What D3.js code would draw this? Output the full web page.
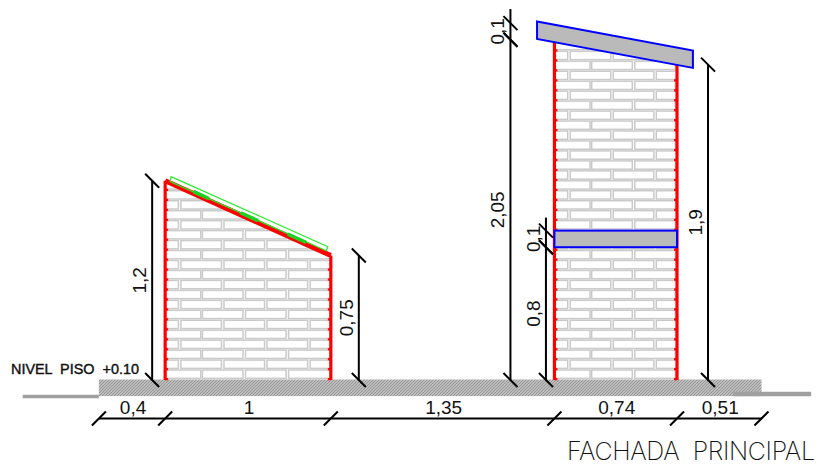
<!DOCTYPE html>
<html>
<head>
<meta charset="utf-8">
<script src="https://cdn.jsdelivr.net/npm/d3@7"></script>
<style>
    html, body { margin: 0; padding: 0; background: #fff; }
    svg { display: block; }
    text { font-family: "Liberation Sans", Arial, sans-serif; fill: #111; }
</style>
</head>
<body>
<div id="chart"></div>
<script>
// all lengths in metres, as written on the drawing
const spanValues = [0.4, 1, 1.35, 0.74, 0.51];
const spanLabels = ['0,4', '1', '1,35', '0,74', '0,51'];

const lowWallHeights = [1.2, 0.75];
const lowWallLabels = ['1,2', '0,75'];

const tallStackValues = [2.05, 0.1];
const tallStackLabels = ['2,05', '0,1'];
const innerStackValues = [0.8, 0.1];
const innerStackLabels = ['0,8', '0,1'];
const rearWallHeight = 1.9;
const rearWallLabel = '1,9';

const roofOutline = [[2.645, 2.16], [2.645, 2.054], [3.586, 1.88], [3.586, 1.985]];
const flashing = [[0.436, 1.225], [0.43, 1.195], [1.372, 0.779], [1.382, 0.803]];
const flashingClips = [[0.57, 0.665], [0.856, 0.96], [1.14, 1.25]];

// brick joints along a course, measured from the left of each wall
const courseA = [[0, 0.215], [0.225, 0.47], [0.485, 0.73], [0.745, 1]];
const courseB = [[0, 0.08], [0.095, 0.34], [0.355, 0.6], [0.615, 0.86], [0.875, 1]];
const coursePitch = 0.06;
const brickHeight = 0.05;
const lintelCourse = 15;

const groundLeft = [-0.46, 0];
const groundRight = [3.83, 4.3];
const floorLevel = 'NIVEL  PISO  +0.10';
const title = 'FACHADA  PRINCIPAL';

const width = 819;
const height = 467;

const x = d3.scaleLinear().domain([0, 4]).range([98.9, 761.5]);
const y = d3.scaleLinear().domain([0, 2]).range([380, 48]);

const svg = d3.select('#chart').append('svg')
    .attr('width', width)
    .attr('height', height);

const defs = svg.append('defs');

const hatch = defs.append('pattern')
    .attr('id', 'hatch')
    .attr('width', 3)
    .attr('height', 3)
    .attr('patternUnits', 'userSpaceOnUse');
hatch.append('rect').attr('width', 3).attr('height', 3).attr('fill', '#bcbcbc');
hatch.append('path').attr('d', 'M0,3L3,0M-1,1L1,-1M2,4L4,2').attr('stroke', '#8e8e8e').attr('stroke-width', 0.8);

const toPoints = pts => pts.map(p => x(p[0]) + ',' + y(p[1])).join(' ');
const line = d3.line().x(d => x(d[0])).y(d => y(d[1]));

const leftWall = spanValues[0];
const rightWall = leftWall + spanValues[1];
const rearLeft = rightWall + spanValues[2];
const rearRight = rearLeft + spanValues[3];
const platformEnd = rearRight + spanValues[4];

// ground + platform
const ground = svg.append('g');
ground.append('path')
    .attr('d', line([[groundLeft[0], -0.1], [groundLeft[1], -0.1]]))
    .attr('stroke', '#a0a0a0').attr('stroke-width', 3.5).attr('fill', 'none');
ground.append('rect')
    .attr('x', x(0))
    .attr('y', y(0) - 0.5)
    .attr('width', x(platformEnd) - x(0))
    .attr('height', y(-0.1) - y(0))
    .attr('fill', 'url(#hatch)');
ground.append('path')
    .attr('d', line([[groundRight[0], -0.085], [groundRight[1], -0.085]]))
    .attr('stroke', '#a0a0a0').attr('stroke-width', 4.5).attr('fill', 'none');

function drawBricks(id, outline, left, wallWidth, numCourses, flipFrom) {
    defs.append('clipPath').attr('id', id)
        .append('polygon').attr('points', toPoints(outline));

    const g = svg.append('g').attr('clip-path', 'url(#' + id + ')');

    d3.range(numCourses).forEach(k => {
        const isA = flipFrom !== null && k >= flipFrom ? k % 2 === 1 : k % 2 === 0;
        const course = isA ? courseA : courseB;
        const bottom = 0.01 + k * coursePitch;

        course.forEach(b => {
            if (b[0] >= wallWidth) {
                return;
            }
            g.append('rect')
                .attr('x', x(left + b[0]))
                .attr('y', y(bottom + brickHeight))
                .attr('width', x(Math.min(b[1], wallWidth) - b[0]) - x(0))
                .attr('height', y(0) - y(brickHeight))
                .attr('fill', '#fff')
                .attr('stroke', '#cacaca')
                .attr('stroke-width', 1.5);
        });
    });
}

// the red walls carry a small stub at every course
function drawWall(wallX, top, side) {
    const g = svg.append('g').attr('stroke', '#f00').attr('fill', 'none');
    g.append('path')
        .attr('d', line([[wallX, 0], [wallX, top]]))
        .attr('stroke-width', 3.2);
    d3.range(0, Math.floor(top / coursePitch)).forEach(k => {
        const level = k * coursePitch + 0.005;
        g.append('path')
            .attr('d', 'M' + x(wallX) + ',' + y(level) + 'h' + side * 3)
            .attr('stroke-width', 2.2);
    });
}

drawBricks('low-wall',
    [[leftWall, 0], [leftWall, lowWallHeights[0]], [rightWall, lowWallHeights[1]], [rightWall, 0]],
    leftWall, 1, 20, null);
drawBricks('rear-wall',
    [[rearLeft, 0], [rearLeft, 2.05], [rearRight, 1.9], [rearRight, 0]],
    rearLeft, spanValues[3], 34, lintelCourse);

drawWall(leftWall, lowWallHeights[0], 1);
drawWall(rightWall, lowWallHeights[1], -1);
drawWall(rearLeft, tallStackValues[0], 1);
drawWall(rearRight, rearWallHeight, -1);

// sloped red beam and green flashing on the low wall
svg.append('path')
    .attr('d', line([[leftWall, lowWallHeights[0]], [rightWall, lowWallHeights[1]]]))
    .attr('stroke', '#f00').attr('stroke-width', 5).attr('fill', 'none');
svg.append('polygon')
    .attr('points', toPoints(flashing))
    .attr('fill', 'none').attr('stroke', '#22ee22').attr('stroke-width', 1.2);
const slope = (lowWallHeights[1] - lowWallHeights[0]) / spanValues[1];
flashingClips.forEach(c => {
    const at = v => lowWallHeights[0] + slope * (v - leftWall) + 0.012;
    svg.append('path')
        .attr('d', line([[c[0], at(c[0])], [c[1], at(c[1])]]))
        .attr('stroke', '#20d020').attr('stroke-width', 3.6).attr('fill', 'none');
});

// roof and lintel
svg.append('polygon')
    .attr('points', toPoints(roofOutline))
    .attr('fill', '#bababa').attr('stroke', '#00f').attr('stroke-width', 2);
svg.append('rect')
    .attr('x', x(rearLeft))
    .attr('y', y(innerStackValues[0] + innerStackValues[1]))
    .attr('width', x(spanValues[3]) - x(0))
    .attr('height', y(0) - y(innerStackValues[1]))
    .attr('fill', '#bababa').attr('stroke', '#00f').attr('stroke-width', 2);

// dimension helpers
const dims = svg.append('g').attr('stroke', '#000').attr('fill', 'none');

function tick(px, py) {
    dims.append('line')
        .attr('x1', px - 7).attr('y1', py - 7)
        .attr('x2', px + 7).attr('y2', py + 7)
        .attr('stroke-width', 2);
}

function flatTick(px, py) {
    dims.append('line')
        .attr('x1', px - 7).attr('y1', py + 7)
        .attr('x2', px + 7).attr('y2', py - 7)
        .attr('stroke-width', 2);
}

function verticalDim(px, from, to, extra) {
    dims.append('line')
        .attr('x1', px).attr('x2', px)
        .attr('y1', y(from)).attr('y2', y(to) - (extra || 0))
        .attr('stroke-width', 2);
    tick(px, y(from));
    tick(px, y(to));
}

function verticalLabel(px, level, label) {
    svg.append('text')
        .attr('transform', 'translate(' + px + ',' + y(level) + ') rotate(-90)')
        .attr('text-anchor', 'middle')
        .attr('font-size', 19)
        .text(label);
}

// bottom chain
const chainY = 418.5;
let running = 0;
dims.append('line')
    .attr('x1', x(0)).attr('x2', x(platformEnd))
    .attr('y1', chainY).attr('y2', chainY)
    .attr('stroke-width', 2);
flatTick(x(0), chainY);
spanValues.forEach((v, i) => {
    const next = running + v;
    flatTick(x(next), chainY);
    svg.append('text')
        .attr('x', (x(running) + x(next)) / 2 + 1)
        .attr('y', chainY - 5)
        .attr('text-anchor', 'middle')
        .attr('font-size', 19)
        .text(spanLabels[i]);
    running = next;
});

// vertical chains
const lowDimX = x(leftWall) - 13;
verticalDim(lowDimX, 0, lowWallHeights[0]);
verticalLabel(lowDimX - 6, lowWallHeights[0] / 2, lowWallLabels[0]);

const sideDimX = x(rightWall) + 28;
verticalDim(sideDimX, 0, lowWallHeights[1]);
verticalLabel(sideDimX - 6, lowWallHeights[1] / 2, lowWallLabels[1]);

const tallDimX = x(rearLeft) - 44;
verticalDim(tallDimX, 0, tallStackValues[0]);
verticalDim(tallDimX, tallStackValues[0], tallStackValues[0] + tallStackValues[1], 14);
verticalLabel(tallDimX - 6, tallStackValues[0] / 2, tallStackLabels[0]);
verticalLabel(tallDimX - 6, tallStackValues[0] + tallStackValues[1] / 2, tallStackLabels[1]);

const innerDimX = x(rearLeft) - 8.5;
verticalDim(innerDimX, 0, innerStackValues[0]);
verticalDim(innerDimX, innerStackValues[0], innerStackValues[0] + innerStackValues[1], 13);
verticalLabel(innerDimX - 6, innerStackValues[0] / 2, innerStackLabels[0]);
verticalLabel(innerDimX - 6, innerStackValues[0] + innerStackValues[1] / 2, innerStackLabels[1]);

const rearDimX = x(rearRight) + 31;
verticalDim(rearDimX, 0, rearWallHeight);
verticalLabel(rearDimX - 6, rearWallHeight / 2, rearWallLabel);

svg.append('text')
    .attr('x', 11)
    .attr('y', 374)
    .attr('font-size', 14)
    .attr('stroke', '#111')
    .attr('stroke-width', 0.4)
    .attr('textLength', 128)
    .attr('lengthAdjust', 'spacingAndGlyphs')
    .style('white-space', 'pre')
    .text(floorLevel);

svg.append('text')
    .attr('x', 567)
    .attr('y', 460)
    .attr('font-size', 25)
    .attr('font-weight', 200)
    .attr('textLength', 248)
    .attr('lengthAdjust', 'spacing')
    .style('white-space', 'pre')
    .style('font-family', 'Inter, "Liberation Sans", sans-serif')
    .text(title);
</script>
</body>
</html>
